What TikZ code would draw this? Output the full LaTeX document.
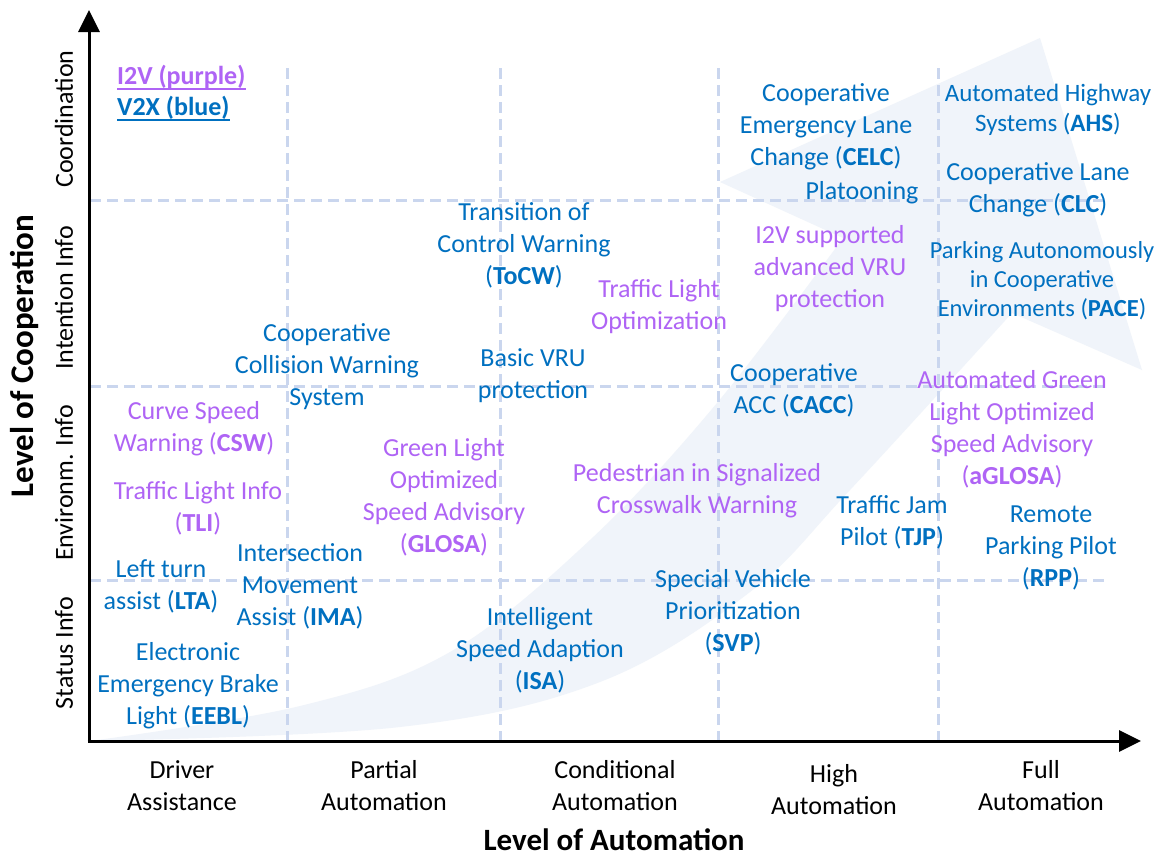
\documentclass[tikz,border=0pt]{standalone}
\usepackage{fontspec}
\setmainfont{Carlito}
\usetikzlibrary{arrows.meta}

\definecolor{v2xblue}{RGB}{0,112,192}
\definecolor{i2vpurple}{RGB}{175,100,245}
\definecolor{gridc}{RGB}{202,214,238}
\definecolor{swooshc}{RGB}{240,244,250}

\tikzset{
  lbl/.style={align=center, inner sep=0pt, font=\fontsize{26}{32}\selectfont},
  vb/.style={lbl, text=v2xblue},
  vp/.style={lbl, text=i2vpurple},
  tick/.style={lbl, text=black},
  ytick/.style={tick, rotate=90},
  axtitle/.style={inner sep=0pt, font=\fontsize{31}{36}\selectfont\bfseries},
  legend/.style={inner sep=0pt, anchor=base west, font=\fontsize{26}{32}\selectfont\bfseries},
  gridline/.style={draw=gridc, line width=3pt, dash pattern=on 11pt off 6pt},
  axisline/.style={line width=3pt, -{Triangle[length=22pt,width=21pt]}},
}

\begin{document}
\begin{tikzpicture}[x=1pt,y=-1pt]
\useasboundingbox (0,0) rectangle (1159,857);
\fill[white] (0,0) rectangle (1159,857);

% sweeping background arrow
\fill[swooshc]
  plot[smooth, tension=0.6] coordinates {(90,741) (300,706) (450,652) (590,540) (717,403) (843,238)}
  -- (720,182) -- (1040,38) -- (1142,370) -- (1012,313)
  -- plot[smooth, tension=0.6] coordinates {(1012,313) (850,490) (750,592) (600,682) (400,727) (90,741)}
  -- cycle;

% grid
\foreach \gx in {287,500,718,938} \draw[gridline] (\gx,68) -- (\gx,741);
\foreach \gy in {200,386,580} \draw[gridline] (90,\gy) -- (1108,\gy);

% axes
\coordinate (O) at (89,741);
\coordinate (ytop) at (89,10);
\coordinate (xend) at (1141,741);
\coordinate (Ox) at (87.5,741);
\coordinate (Oy) at (89,742.5);
\draw[axisline] (Oy) -- (ytop);
\draw[axisline] (Ox) -- (xend);

% axis titles
\node[axtitle, rotate=90, font=\fontsize{33}{38}\selectfont\bfseries] (ytitle) at (24,356) {Level of Cooperation};
\node[axtitle] (xtitle) at (614,840) {Level of Automation};

% cooperation levels
\node[ytick] (coord) at (64,119) {Coordination};
\node[ytick] (inten) at (64,298) {Intention Info};
\node[ytick] (envir) at (64,483) {Environm. Info};
\node[ytick] (status) at (64,653) {Status Info};

% automation levels
\node[tick] (da) at (182,786) {Driver\\Assistance};
\node[tick] (pa) at (384,786) {Partial\\Automation};
\node[tick] (ca) at (615,786) {Conditional\\Automation};
\node[tick] (ha) at (834,790) {High\\Automation};
\node[tick] (fa) at (1041,786) {Full\\Automation};

% legend
\node[legend, text=i2vpurple] (legI) at (117,84) {I2V (purple)};
\node[legend, text=v2xblue] (legV) at (117,115) {V2X (blue)};
\draw[i2vpurple, line width=2pt] ([yshift=-4.5pt]legI.base west) -- ([yshift=-4.5pt]legI.base east);
\draw[v2xblue, line width=2pt] ([yshift=-4.5pt]legV.base west) -- ([yshift=-4.5pt]legV.base east);

% use cases
\node[vb] (celc) at (826,127) {Cooperative\\Emergency Lane\\Change (\textbf{CELC})};
\node[vb] (plat) at (862,193) {Platooning};
\node[vb, font=\fontsize{25}{30}\selectfont] (ahs) at (1048,110) {Automated Highway\\Systems (\textbf{AHS})};
\node[vb] (clc) at (1038,190) {Cooperative Lane\\Change (\textbf{CLC})};
\node[vp] (avru) at (830,269) {I2V supported\\advanced VRU\\protection};
\node[vb, font=\fontsize{24.5}{29}\selectfont] (pace) at (1042,281) {Parking Autonomously\\in Cooperative\\Environments (\textbf{PACE})};
\node[vb] (tocw) at (524,245) {Transition of\\Control Warning\\(\textbf{ToCW})};
\node[vp] (tlo) at (659,307) {Traffic Light\\Optimization};
\node[vb] (ccws) at (327,367) {Cooperative\\Collision Warning\\System};
\node[vb] (bvru) at (533,376) {Basic VRU\\protection};
\node[vb] (cacc) at (794,390) {Cooperative\\ACC (\textbf{CACC})};
\node[vp] (aglosa) at (1012,429) {Automated Green\\Light Optimized\\Speed Advisory\\(\textbf{aGLOSA})};
\node[vp] (csw) at (194,429) {Curve Speed\\Warning (\textbf{CSW})};
\node[vp] (glosa) at (444,497) {Green Light\\Optimized\\Speed Advisory\\(\textbf{GLOSA})};
\node[vp] (pscw) at (697,491) {Pedestrian in Signalized\\Crosswalk Warning};
\node[vp] (tli) at (198,508) {Traffic Light Info\\(\textbf{TLI})};
\node[vb] (tjp) at (892,522) {Traffic Jam\\Pilot (\textbf{TJP})};
\node[vb] (rpp) at (1051,548) {Remote\\Parking Pilot\\(\textbf{RPP})};
\node[vb] (lta) at (161,586) {Left turn\\assist (\textbf{LTA})};
\node[vb] (ima) at (300,586) {Intersection\\Movement\\Assist (\textbf{IMA})};
\node[vb] (svp) at (733,612) {Special Vehicle\\Prioritization\\(\textbf{SVP})};
\node[vb] (isa) at (540,650) {Intelligent\\Speed Adaption\\(\textbf{ISA})};
\node[vb] (eebl) at (188,686) {Electronic\\Emergency Brake\\Light (\textbf{EEBL})};
\end{tikzpicture}
\end{document}
